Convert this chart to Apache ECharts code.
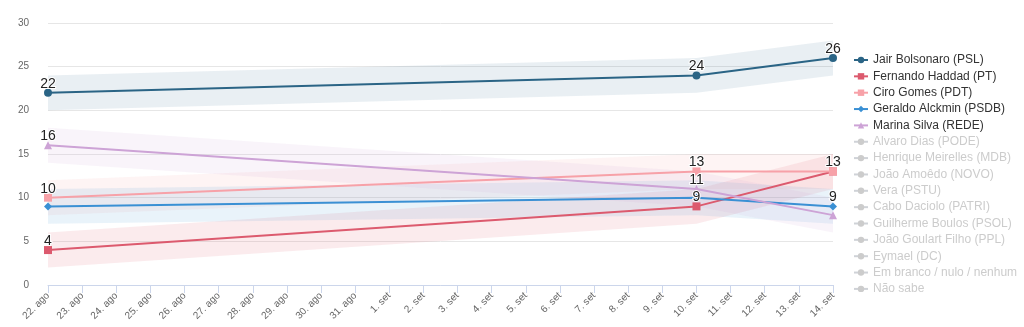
<!DOCTYPE html>
<html>
<head>
<meta charset="utf-8">
<script src="https://cdn.jsdelivr.net/npm/echarts@6/dist/echarts.min.js"></script>
<style>
  html, body { margin: 0; padding: 0; background: #fff; }
  #chart { width: 1024px; height: 327px; }
</style>
</head>
<body>
<div id="chart"></div>
<script>
// datas do eixo x (22 ago -> 14 set)
const days = [
  '22. ago', '23. ago', '24. ago', '25. ago', '26. ago', '27. ago', '28. ago', '29. ago', '30. ago', '31. ago',
  '1. set', '2. set', '3. set', '4. set', '5. set', '6. set', '7. set', '8. set', '9. set', '10. set',
  '11. set', '12. set', '13. set', '14. set'
];
// datas das pesquisas
const pollDays = ['22. ago', '10. set', '14. set'];

const candidates = [
  'Jair Bolsonaro (PSL)', 'Fernando Haddad (PT)', 'Ciro Gomes (PDT)', 'Geraldo Alckmin (PSDB)', 'Marina Silva (REDE)'
];
const hiddenCandidates = [
  'Alvaro Dias (PODE)', 'Henrique Meirelles (MDB)', 'João Amoêdo (NOVO)', 'Vera (PSTU)', 'Cabo Daciolo (PATRI)',
  'Guilherme Boulos (PSOL)', 'João Goulart Filho (PPL)', 'Eymael (DC)', 'Em branco / nulo / nenhum', 'Não sabe'
];

const bolsonaro = [22, 24, 26];
const haddad = [4, 9, 13];
const ciro = [10, 13, 13];
const alckmin = [9, 10, 9];
const marina = [16, 11, 8];
const values = [bolsonaro, haddad, ciro, alckmin, marina];

// margem de erro (+/- pontos)
const margin = 2;

// quais rótulos aparecem (os outros ficam escondidos por sobreposição)
const showLabels = [
  [true, true, true],
  [true, true, true],
  [true, true, false],
  [false, false, true],
  [true, true, false]
];

const colors = ['#2a6485', '#dc5a6e', '#f7a1a8', '#3a90d4', '#cda3d6'];
const symbols = ['circle', 'rect', 'triangle-down', 'diamond', 'triangle'];
const bandOpacity = [0.1, 0.12, 0.12, 0.11, 0.12];

const series = [];

// faixas de erro (empilhadas: base invisível + largura)
values.forEach((vals, i) => {
  series.push({
    type: 'line',
    stack: 'band' + i,
    data: vals.map((v, j) => [pollDays[j], v - margin]),
    lineStyle: { opacity: 0 },
    symbol: 'none',
    silent: true,
    z: 1
  });
  series.push({
    type: 'line',
    stack: 'band' + i,
    data: vals.map((v, j) => [pollDays[j], 2 * margin]),
    lineStyle: { opacity: 0 },
    areaStyle: { color: colors[i], opacity: bandOpacity[i] },
    symbol: 'none',
    silent: true,
    z: 1
  });
});

// linhas dos candidatos
values.forEach((vals, i) => {
  series.push({
    name: candidates[i],
    type: 'line',
    color: colors[i],
    symbol: symbols[i],
    symbolSize: 8,
    lineStyle: { width: 2 },
    z: 5,
    label: {
      position: 'top',
      distance: -2,
      fontSize: 14,
      fontFamily: 'Liberation Sans, Arial, sans-serif',
      color: '#222',
      textBorderColor: '#fff',
      textBorderWidth: 2
    },
    data: vals.map((v, j) => ({
      value: [pollDays[j], v],
      label: { show: showLabels[i][j], formatter: String(v) }
    }))
  });
});

// candidatos desligados na legenda
hiddenCandidates.forEach((name) => {
  series.push({ name: name, type: 'line', symbol: 'circle', color: '#999', data: [] });
});

const selected = {};
hiddenCandidates.forEach((n) => { selected[n] = false; });

const option = {
  animation: false,
  textStyle: { fontFamily: 'Liberation Sans, Arial, sans-serif' },
  grid: { left: 48, right: 191, top: 23, bottom: 42 },
  legend: {
    orient: 'vertical',
    left: 848,
    top: 49,
    itemWidth: 14,
    itemHeight: 8,
    itemGap: 4.35,
    data: candidates.concat(hiddenCandidates),
    selected: selected,
    inactiveColor: '#cccccc',
    textStyle: { fontSize: 12, color: '#333' }
  },
  xAxis: {
    type: 'category',
    data: days,
    boundaryGap: false,
    axisLine: { lineStyle: { color: '#ccd6eb' } },
    axisTick: { show: true, alignWithLabel: true, length: 8, lineStyle: { color: '#ccd6eb' } },
    axisLabel: { rotate: 45, interval: 0, fontSize: 10, color: '#666', margin: 9 },
    splitLine: { show: false }
  },
  yAxis: {
    type: 'value',
    min: 0,
    max: 30,
    interval: 5,
    axisLine: { show: false },
    axisTick: { show: false },
    axisLabel: { fontSize: 10, color: '#666', margin: 19 },
    splitLine: { lineStyle: { color: '#e6e6e6' } }
  },
  series: series
};

const chart = echarts.init(document.getElementById('chart'));
chart.setOption(option);
</script>
</body>
</html>
